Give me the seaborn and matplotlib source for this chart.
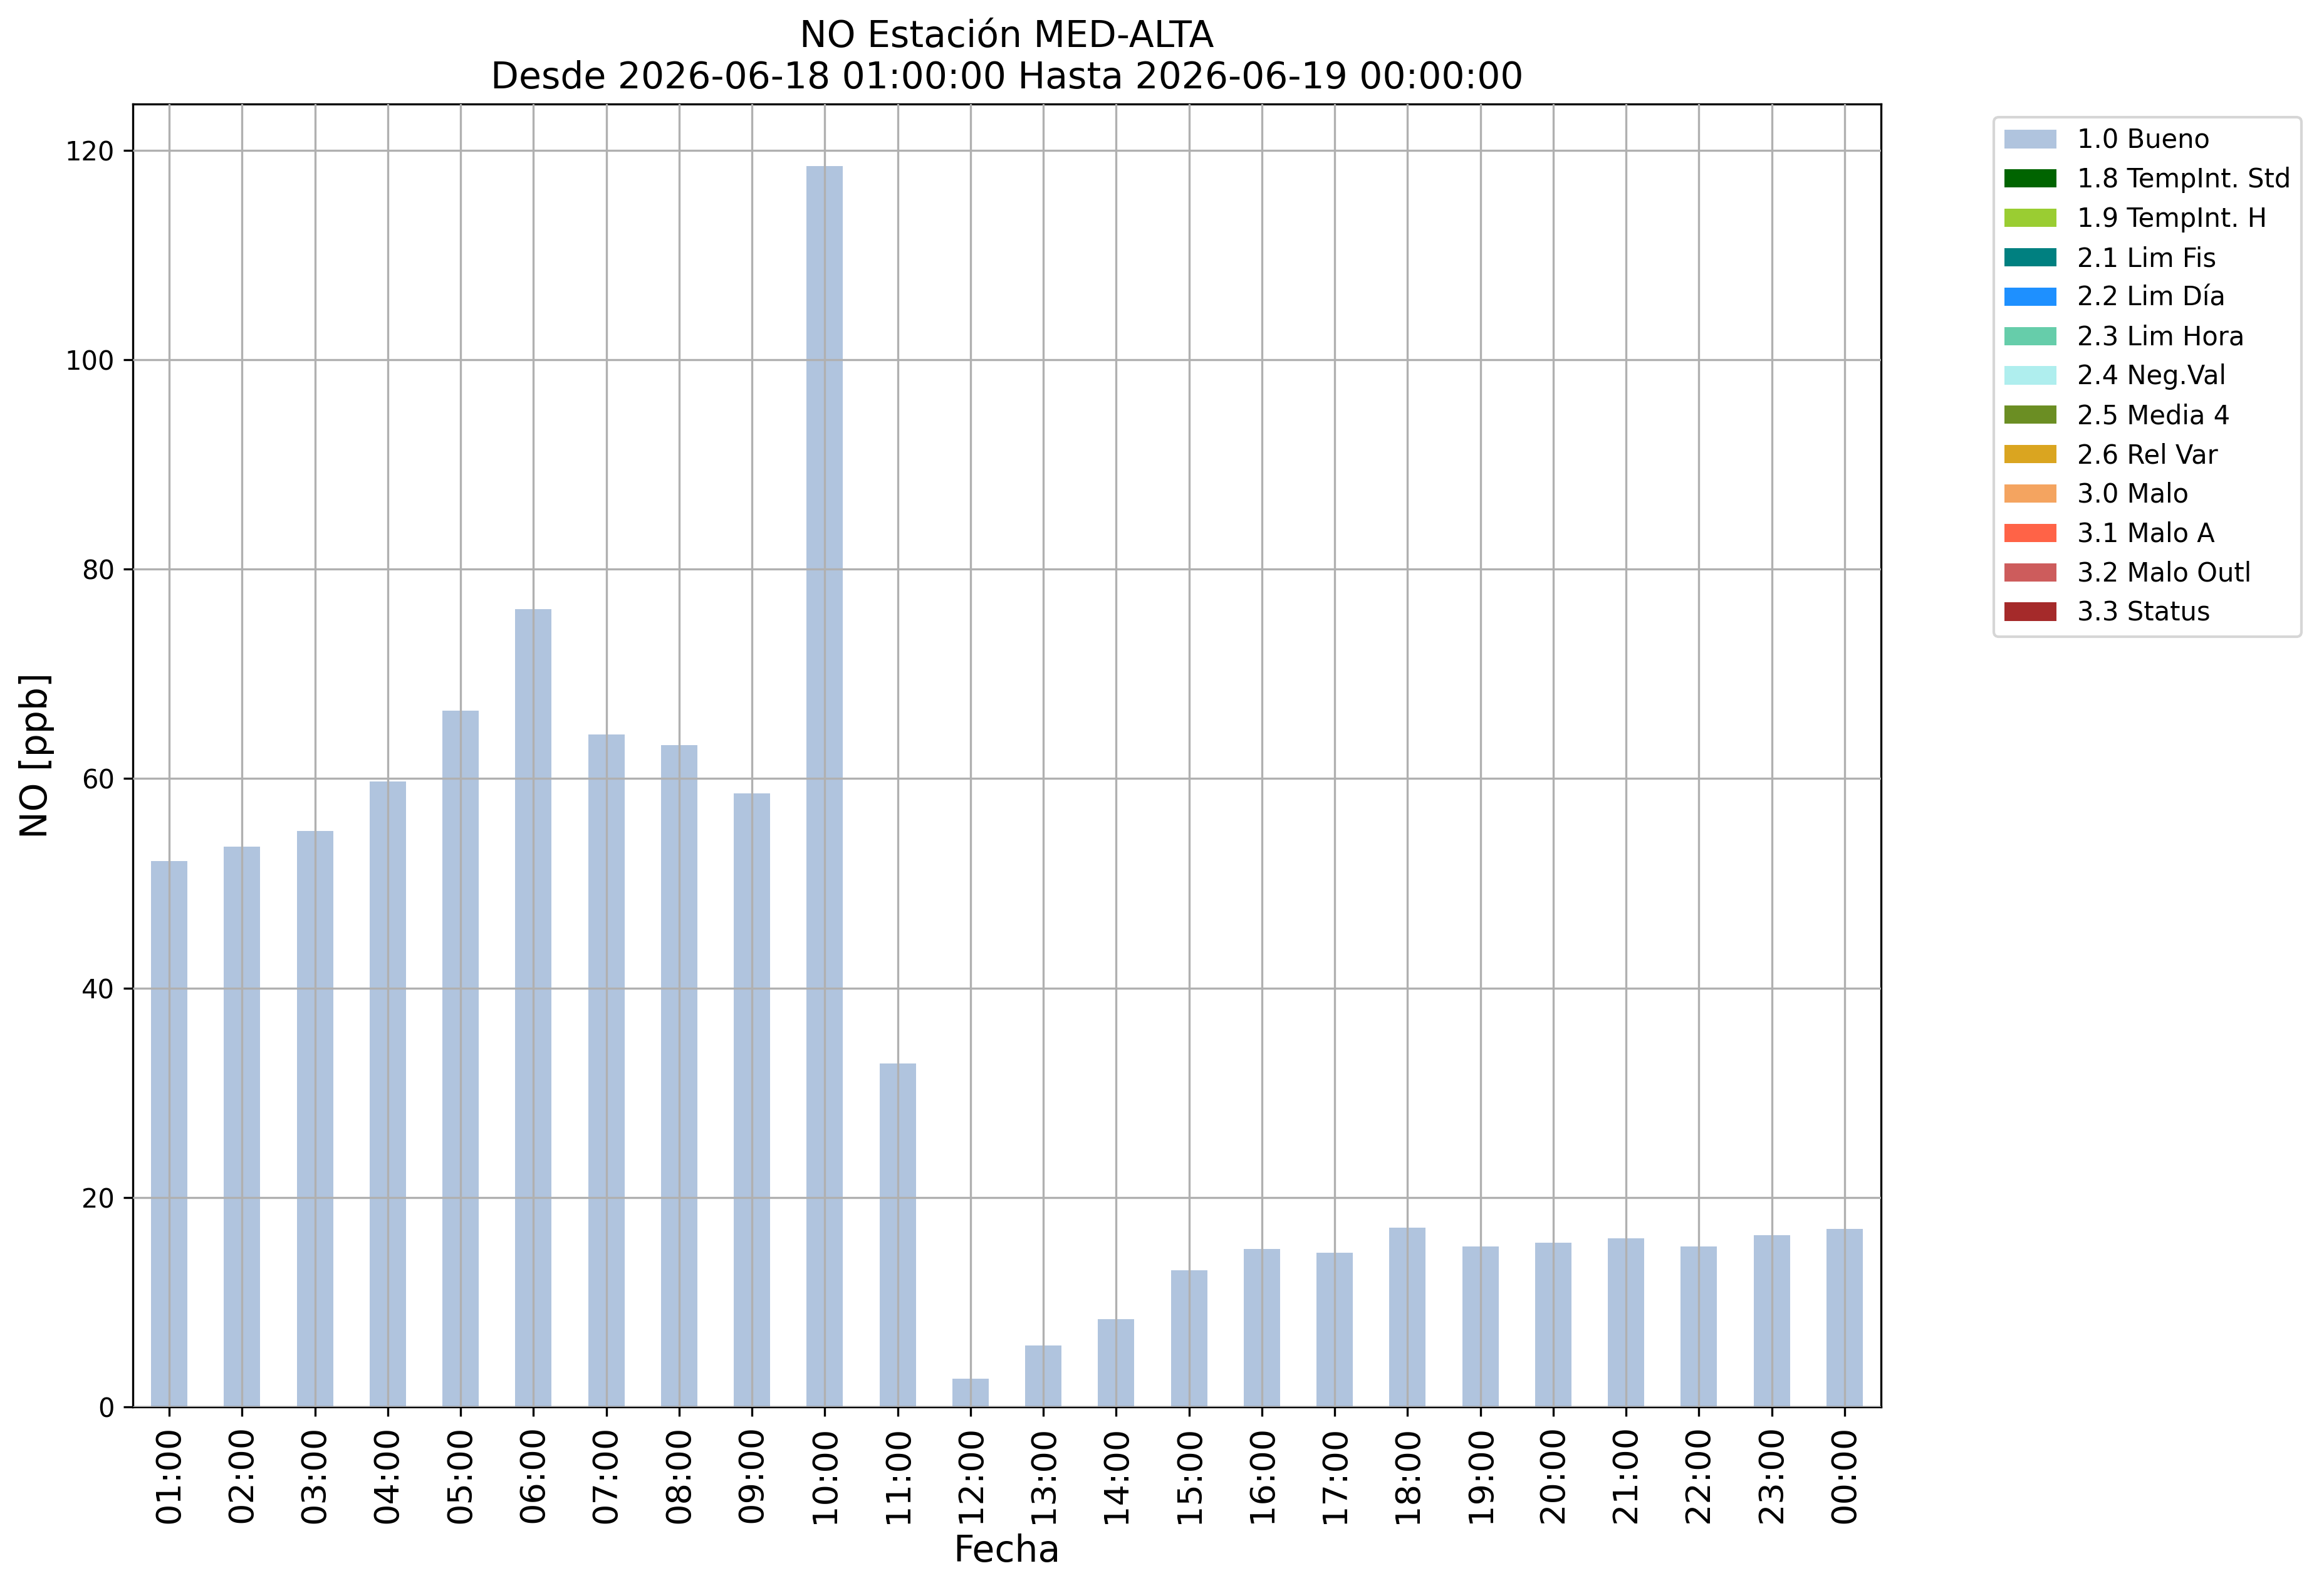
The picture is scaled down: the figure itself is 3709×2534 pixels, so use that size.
import matplotlib
matplotlib.use("Agg")
import matplotlib.pyplot as plt
from matplotlib.patches import Patch
import seaborn as sns
import pandas as pd

hours = ["01:00", "02:00", "03:00", "04:00", "05:00", "06:00", "07:00", "08:00",
         "09:00", "10:00", "11:00", "12:00", "13:00", "14:00", "15:00", "16:00",
         "17:00", "18:00", "19:00", "20:00", "21:00", "22:00", "23:00", "00:00"]
no_values = [52.1, 53.5, 55.0, 59.7, 66.5, 76.2, 64.2, 63.2, 58.6, 118.5, 32.8, 2.7,
             5.85, 8.4, 13.05, 15.1, 14.75, 17.1, 15.3, 15.7, 16.1, 15.35, 16.4, 17.0]

flag_labels = ["1.0 Bueno", "1.8 TempInt. Std", "1.9 TempInt. H", "2.1 Lim Fis",
               "2.2 Lim Día", "2.3 Lim Hora", "2.4 Neg.Val", "2.5 Media 4",
               "2.6 Rel Var", "3.0 Malo", "3.1 Malo A", "3.2 Malo Outl", "3.3 Status"]
flag_colors = ["lightsteelblue", "darkgreen", "yellowgreen", "teal", "dodgerblue",
               "mediumaquamarine", "paleturquoise", "olivedrab", "goldenrod",
               "sandybrown", "tomato", "indianred", "brown"]

title = "NO Estación MED-ALTA\nDesde 2026-06-18 01:00:00 Hasta 2026-06-19 00:00:00"

df = pd.DataFrame({"Fecha": hours, "NO": no_values})

plt.rcParams["font.family"] = ["DejaVu Sans"]
fig = plt.figure(figsize=(3709 / 300, 2534 / 300), dpi=300)
ax = fig.add_axes([212 / 3709, 1 - 2245 / 2534, (3002 - 212) / 3709, (2245 - 166) / 2534])

sns.barplot(data=df, x="Fecha", y="NO", order=hours, color=flag_colors[0],
            saturation=1, width=0.5, ax=ax)

ax.set_xlim(-0.5, len(hours) - 0.5)
ax.set_ylim(0, max(no_values) * 1.05)
ax.set_yticks([0, 20, 40, 60, 80, 100, 120])
ax.tick_params(axis="y", labelsize=10)
ax.tick_params(axis="x", labelsize=13, labelrotation=90)
ax.grid(True, color="#b0b0b0", linewidth=0.8)
ax.set_axisbelow(False)
for s in ax.spines.values():
    s.set_linewidth(0.8)
    s.set_color("black")

ax.set_title(title, fontsize=14)
ax.set_xlabel("Fecha", fontsize=14)
ax.set_ylabel("NO [ppb]", fontsize=14)

handles = [Patch(facecolor=c, edgecolor="none", label=l) for l, c in zip(flag_labels, flag_colors)]
ax.legend(handles=handles, loc="upper left", bbox_to_anchor=(1.057, 1), fontsize=10)

fig.savefig("out.png", dpi=300)
